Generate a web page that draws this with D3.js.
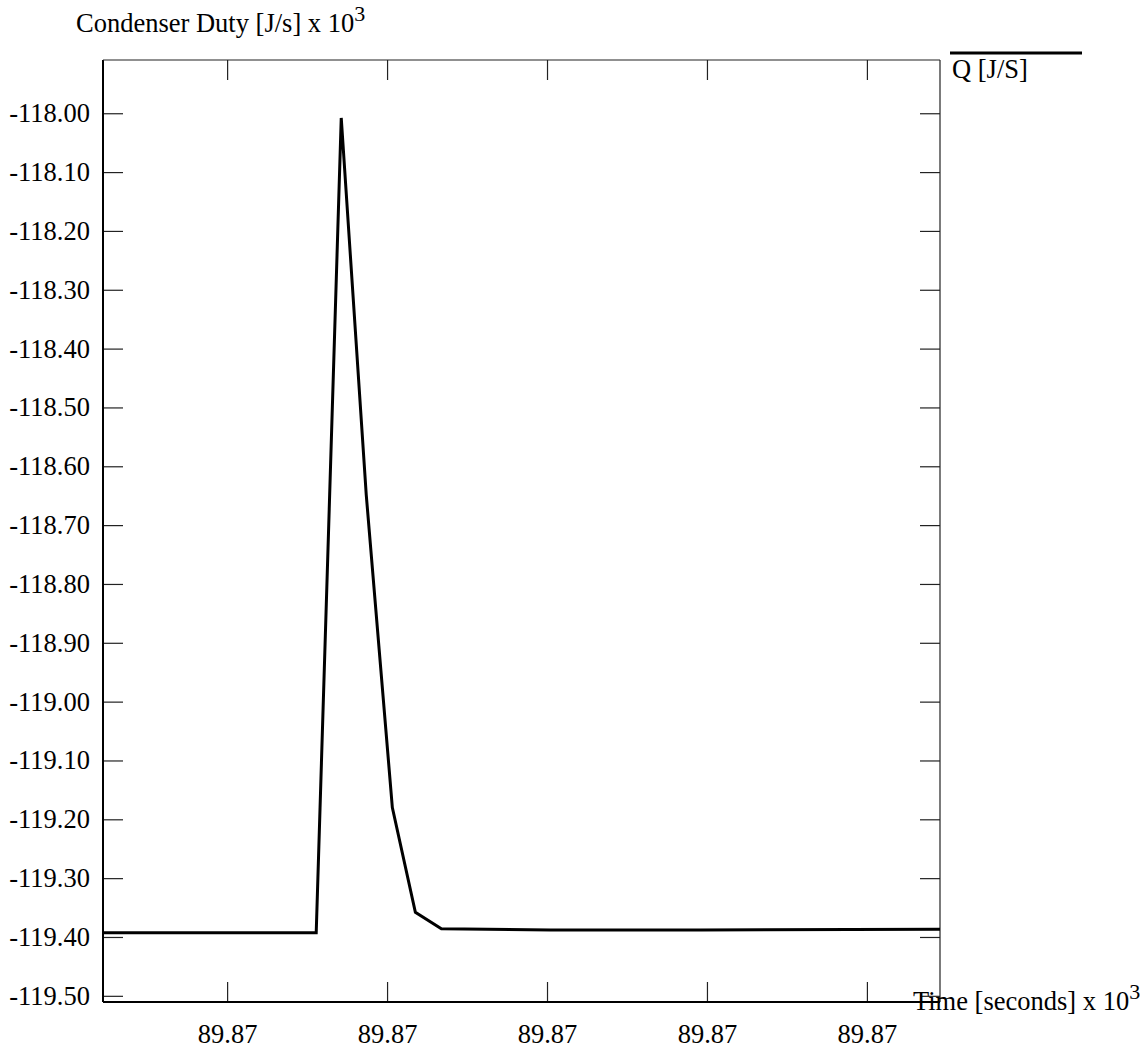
<!DOCTYPE html>
<html>
<head>
<meta charset="utf-8">
<script src="https://cdn.jsdelivr.net/npm/d3@7"></script>
<style>
  body { margin: 0; background: #fff; }
  svg text { font-family: "Liberation Serif", "Times New Roman", serif; fill: #000; }
</style>
</head>
<body>
<div id="chart"></div>
<script>
// time in seconds x 10^3, duty in J/s x 10^3
const timeVals = [89.8700448, 89.8703114, 89.8703427, 89.870374, 89.8704066,
    89.8704354, 89.8704679, 89.8706044, 89.8707922, 89.8710914];
const dutyVals = [-119.393, -119.393, -118.008, -118.649, -119.180,
    -119.358, -119.386, -119.388, -119.388, -119.387];

const xTicks = [89.8702, 89.8704, 89.8706, 89.8708, 89.8710];
const yTicks = [-118.0, -118.1, -118.2, -118.3, -118.4, -118.5, -118.6, -118.7,
    -118.8, -118.9, -119.0, -119.1, -119.2, -119.3, -119.4, -119.5];

const seriesName = "Q [J/S]";

const W = 1148, H = 1050;
const plot = { left: 103, right: 940, top: 60, bottom: 1002 };
const fontSize = "26.5px";

const svg = d3.select("#chart").append("svg")
    .attr("width", W)
    .attr("height", H);

const x = d3.scaleLinear()
    .domain([89.8700448, 89.8710914])
    .range([plot.left, plot.right]);

const y = d3.scaleLinear()
    .domain([-117.9095, -119.5105])
    .range([plot.top, plot.bottom]);

// inside ticks on all four sides
const leftAxis = svg.append("g")
    .attr("transform", `translate(${plot.left},0)`)
    .call(d3.axisLeft(y).tickValues(yTicks).tickSize(-20).tickPadding(13)
        .tickFormat(d => d.toFixed(2)));
leftAxis.selectAll("text").style("font-size", fontSize);

svg.append("g")
    .attr("transform", `translate(${plot.right},0)`)
    .call(d3.axisRight(y).tickValues(yTicks).tickSize(-20).tickFormat(""));

svg.append("g")
    .attr("transform", `translate(0,${plot.top})`)
    .call(d3.axisTop(x).tickValues(xTicks).tickSize(-20).tickFormat(""));

const bottomAxis = svg.append("g")
    .attr("transform", `translate(0,${plot.bottom})`)
    .call(d3.axisBottom(x).tickValues(xTicks).tickSize(-20)
        .tickFormat(d => d.toFixed(2)));
bottomAxis.selectAll("text")
    .attr("y", 41).attr("dy", 0)
    .style("font-size", fontSize);

svg.selectAll(".domain").remove();
svg.selectAll(".tick line").attr("stroke", "#222").attr("stroke-width", 1.2);

// frame: heavier left/bottom, thin top/right
svg.append("line")
    .attr("x1", plot.left).attr("x2", plot.left)
    .attr("y1", plot.top).attr("y2", plot.bottom)
    .attr("stroke", "#000").attr("stroke-width", 2);
svg.append("line")
    .attr("x1", plot.left).attr("x2", plot.right)
    .attr("y1", plot.bottom).attr("y2", plot.bottom)
    .attr("stroke", "#000").attr("stroke-width", 2);
svg.append("line")
    .attr("x1", plot.left).attr("x2", plot.right)
    .attr("y1", plot.top).attr("y2", plot.top)
    .attr("stroke", "#222").attr("stroke-width", 1.2);
svg.append("line")
    .attr("x1", plot.right).attr("x2", plot.right)
    .attr("y1", plot.top).attr("y2", plot.bottom)
    .attr("stroke", "#222").attr("stroke-width", 1.2);

// data line
const line = d3.line()
    .x((d, i) => x(timeVals[i]))
    .y(d => y(d));

svg.append("path")
    .datum(dutyVals)
    .attr("d", line)
    .attr("fill", "none")
    .attr("stroke", "#000")
    .attr("stroke-width", 3)
    .attr("stroke-linejoin", "miter");

// axis titles
const yTitle = svg.append("text")
    .attr("x", 76).attr("y", 32)
    .style("font-size", fontSize);
yTitle.append("tspan").text("Condenser Duty [J/s] x 10");
yTitle.append("tspan").attr("dy", -11).style("font-size", "22px").text("3");

const xTitle = svg.append("text")
    .attr("x", 913).attr("y", 1010)
    .style("font-size", fontSize);
xTitle.append("tspan").text("Time [seconds] x 10");
xTitle.append("tspan").attr("dy", -11).style("font-size", "22px").text("3");

// legend
svg.append("line")
    .attr("x1", 950).attr("x2", 1082)
    .attr("y1", 53).attr("y2", 53)
    .attr("stroke", "#000").attr("stroke-width", 3);
svg.append("text")
    .attr("x", 952).attr("y", 78)
    .style("font-size", fontSize)
    .text(seriesName);
</script>
</body>
</html>
